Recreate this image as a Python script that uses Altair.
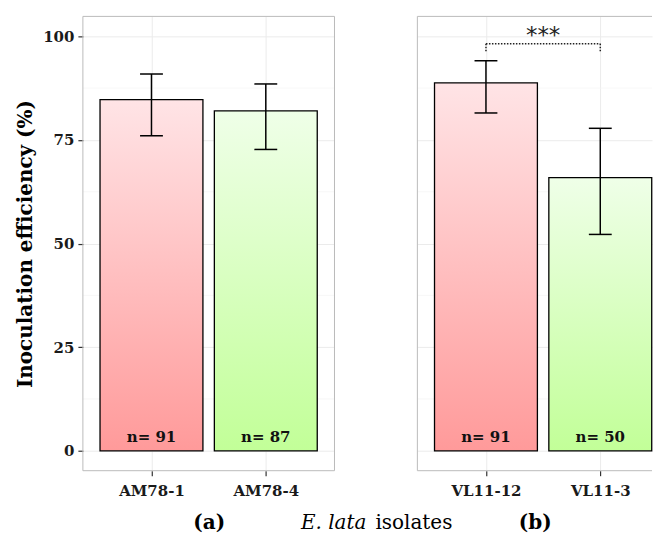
import json
import altair as alt
import pandas as pd

# ---------------- data ----------------
a_isolates = ["AM78-1", "AM78-4"]
a_means = [84.7, 82.0]
a_lower = [76.0, 72.7]
a_upper = [90.9, 88.5]
a_n = [91, 87]

b_isolates = ["VL11-12", "VL11-3"]
b_means = [88.75, 65.9]
b_lower = [81.5, 52.2]
b_upper = [94.1, 77.8]
b_n = [91, 50]

sig_pair = [1, 2]
sig_top = 98.2
sig_bottom = 96.2
sig_label = "***"

y_ticks = [0, 25, 50, 75, 100]
y_minor = [12.5, 37.5, 62.5, 87.5]

panel_titles = ["(a)", "(b)"]
x_title_parts = ["E. lata", "isolates"]
y_title = "Inoculation efficiency (%)"

# ---------------- style ----------------
FONT = "DejaVu Serif"
Y_DOMAIN = [-4.8, 104.8]
H = 455
UNIT = 114.5
N_LABEL_Y = 3.4
FRAME = "#BBBBBB"
GRID = "#EBEBEB"

red_grad = alt.Gradient(
    gradient="linear",
    stops=[alt.GradientStop(color="#FF9A9A", offset=0),
           alt.GradientStop(color="#FFE4E6", offset=1)],
    x1=0, x2=0, y1=1, y2=0)
green_grad = alt.Gradient(
    gradient="linear",
    stops=[alt.GradientStop(color="#C2FF98", offset=0),
           alt.GradientStop(color="#EFFFE8", offset=1)],
    x1=0, x2=0, y1=1, y2=0)


def panel(isolates, means, lower, upper, ns, width, title, left, sig):
    df = pd.DataFrame({
        "pos": list(range(1, len(isolates) + 1)),
        "isolate": isolates,
        "mean": means,
        "lower": lower,
        "upper": upper,
        "n": [f"n= {v}" for v in ns],
    })
    xs = alt.Scale(domain=[0.4, 0.4 + width / UNIT], nice=False, zero=False)
    ys = alt.Scale(domain=Y_DOMAIN, nice=False, zero=False)
    x_ax = alt.Axis(values=list(range(1, len(isolates) + 1)),
                    labelExpr=json.dumps(isolates) + "[datum.value - 1]",
                    grid=True, gridColor=GRID, gridWidth=1, domain=False,
                    tickColor="#333333", tickSize=5, tickWidth=1.2,
                    labelFont=FONT, labelFontSize=15, labelFontWeight="bold",
                    labelColor="#1a1a1a", labelPadding=8,
                    title=title, titleFont=FONT, titleFontSize=20,
                    titleFontWeight="bold", titleColor="black", titlePadding=14)
    if left:
        y_ax = alt.Axis(values=y_ticks, grid=True, gridColor=GRID, gridWidth=1,
                        domain=False, tickColor="#333333", tickSize=5, tickWidth=1.2,
                        labelFont=FONT, labelFontSize=15, labelFontWeight="bold",
                        labelColor="#1a1a1a", labelPadding=4,
                        title=y_title, titleFont=FONT, titleFontSize=20,
                        titleFontWeight="bold", titleColor="black", titlePadding=7)
    else:
        y_ax = alt.Axis(values=y_ticks, grid=True, gridColor=GRID, gridWidth=1,
                        domain=False, ticks=False, labels=False, title=None)

    X = lambda f: alt.X(f, scale=xs, axis=x_ax)
    Y = lambda f: alt.Y(f, scale=ys, axis=y_ax)
    base = alt.Chart(df)

    minor = alt.Chart(pd.DataFrame({"y": y_minor})).mark_rule(
        color="#F4F4F4", strokeWidth=0.7).encode(y=Y("y:Q"))

    bars = []
    for i, grad in enumerate([red_grad, green_grad]):
        bars.append(base.transform_filter(f"datum.pos == {i + 1}")
                    .transform_calculate(x0="datum.pos - 0.45", x1="datum.pos + 0.45")
                    .mark_bar(fill=grad, stroke="black", strokeWidth=1.3)
                    .encode(x=X("x0:Q"), x2="x1:Q", y=Y("mean:Q"), y2=alt.datum(0)))

    err = base.mark_rule(color="black", strokeWidth=1.5).encode(
        x=X("pos:Q"), y=Y("lower:Q"), y2="upper:Q")
    caps_base = base.transform_calculate(c0="datum.pos - 0.1", c1="datum.pos + 0.1")
    cap_lo = caps_base.mark_rule(color="black", strokeWidth=1.5).encode(
        x=X("c0:Q"), x2="c1:Q", y=Y("lower:Q"))
    cap_hi = caps_base.mark_rule(color="black", strokeWidth=1.5).encode(
        x=X("c0:Q"), x2="c1:Q", y=Y("upper:Q"))
    ntext = base.mark_text(font=FONT, fontSize=15, fontWeight="bold",
                           baseline="middle", color="#111111").encode(
        x=X("pos:Q"), y=alt.Y(datum=N_LABEL_Y, scale=ys, axis=y_ax), text="n:N")

    one = pd.DataFrame({"k": [0]})
    frame_top = alt.Chart(one).mark_rule(color=FRAME, strokeWidth=1).encode(
        x=alt.value(0), x2=alt.value(width), y=alt.value(0))
    frame_bot = alt.Chart(one).mark_rule(color=FRAME, strokeWidth=1).encode(
        x=alt.value(0), x2=alt.value(width), y=alt.value(H))
    frame_left = alt.Chart(one).mark_rule(color=FRAME, strokeWidth=1).encode(
        x=alt.value(0), y=alt.value(0), y2=alt.value(H))
    layers = [minor, frame_top, frame_bot, frame_left]
    if left:
        layers.append(alt.Chart(one).mark_rule(color=FRAME, strokeWidth=1).encode(
            x=alt.value(width), y=alt.value(0), y2=alt.value(H)))
    layers += bars + [err, cap_lo, cap_hi, ntext]

    if sig:
        sdf = pd.DataFrame({"x0": [sig_pair[0]], "x1": [sig_pair[1]],
                            "top": [sig_top], "bot": [sig_bottom], "lab": [sig_label]})
        sb = alt.Chart(sdf)
        dash = dict(color="#222222", strokeWidth=1.5, strokeDash=[1.5, 1.5])
        layers.append(sb.mark_rule(**dash).encode(x=X("x0:Q"), x2="x1:Q", y=Y("top:Q")))
        layers.append(sb.mark_rule(**dash).encode(x=X("x0:Q"), y=Y("top:Q"), y2="bot:Q"))
        layers.append(sb.mark_rule(**dash).encode(x=X("x1:Q"), y=Y("top:Q"), y2="bot:Q"))
        layers.append(sb.transform_calculate(mid="(datum.x0 + datum.x1) / 2")
                      .mark_text(font="DejaVu Sans", fontSize=23, baseline="alphabetic",
                                 dy=-1, color="#222222")
                      .encode(x=X("mid:Q"), y=Y("top:Q"), text="lab:N"))
    if left:
        tdf = pd.DataFrame({"t": [x_title_parts[0]]})
        layers.append(alt.Chart(tdf).mark_text(font=FONT, fontSize=20, fontStyle="italic",
                                               align="right", baseline="alphabetic", color="black")
                      .encode(x=alt.value(284), y=alt.value(513), text="t:N"))
        tdf2 = pd.DataFrame({"t": [x_title_parts[1]]})
        layers.append(alt.Chart(tdf2).mark_text(font=FONT, fontSize=20,
                                                align="left", baseline="alphabetic", color="black")
                      .encode(x=alt.value(293), y=alt.value(513), text="t:N"))

    return alt.layer(*layers).properties(width=width, height=H)


pa = panel(a_isolates, a_means, a_lower, a_upper, a_n, 252, panel_titles[0], True, False)
pb = panel(b_isolates, b_means, b_lower, b_upper, b_n, 235, panel_titles[1], False, True)

chart = (alt.hconcat(pa, pb, spacing=83, bounds="flush")
         .properties(padding={"left": 7, "top": 7, "right": 0, "bottom": 0},
                     background="white")
         .configure_view(stroke=None))

chart.save("out.html", embed_options={"renderer": "svg", "actions": False})
